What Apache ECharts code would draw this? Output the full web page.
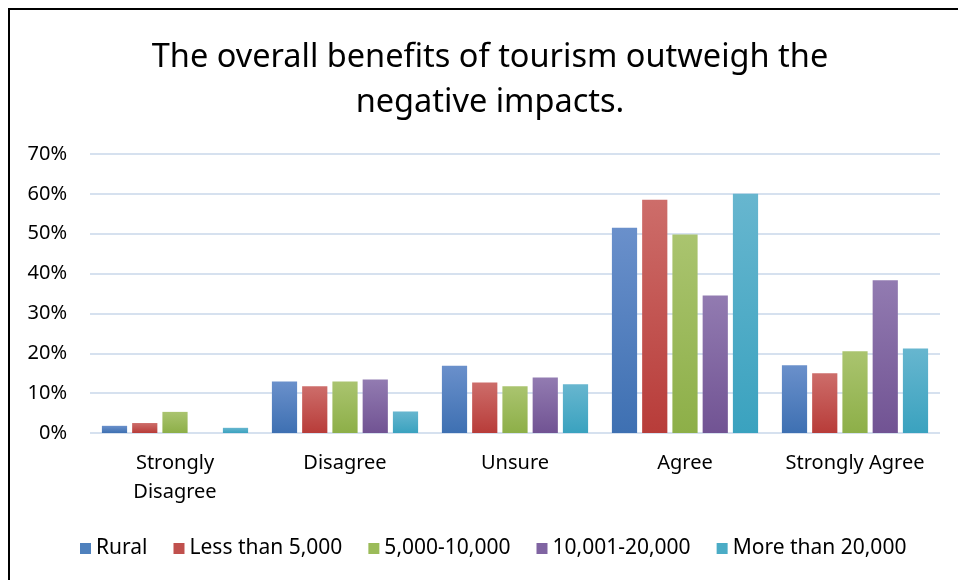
<!DOCTYPE html>
<html>
<head>
<meta charset="utf-8">
<script src="https://cdn.jsdelivr.net/npm/echarts@6/dist/echarts.min.js"></script>
<style>
html,body{margin:0;padding:0;background:#fff;}
#c{width:958px;height:580px;}
</style>
</head>
<body>
<div id="c"></div>
<script>
var categories = ['Strongly\nDisagree', 'Disagree', 'Unsure', 'Agree', 'Strongly Agree'];
var seriesNames = ['Rural', 'Less than 5,000', '5,000-10,000', '10,001-20,000', 'More than 20,000'];
var rural = [1.8, 12.9, 16.9, 51.5, 17.0];
var lessThan5000 = [2.5, 11.7, 12.7, 58.5, 15.0];
var from5000to10000 = [5.3, 12.9, 11.7, 49.8, 20.5];
var from10001to20000 = [0, 13.4, 13.9, 34.5, 38.3];
var moreThan20000 = [1.3, 5.4, 12.2, 60.0, 21.2];
var yTicks = [0, 10, 20, 30, 40, 50, 60, 70];

var FONT = 'Noto Sans';
var seriesData = [rural, lessThan5000, from5000to10000, from10001to20000, moreThan20000];
var colors = [
  ['#6A90CB', '#3E70B2'],
  ['#CD6D6A', '#B83C39'],
  ['#AAC46F', '#8DAF48'],
  ['#927BB1', '#715393'],
  ['#67B6CF', '#3AA2BF']
];
var legendColors = ['#4F81BD', '#C0504D', '#9BBB59', '#8064A2', '#4BACC6'];

var chart = echarts.init(document.getElementById('c'));
chart.setOption({
  animation: false,
  backgroundColor: '#fff',
  color: legendColors,
  title: {
    text: 'The overall benefits of tourism outweigh the\nnegative impacts.',
    left: 485,
    textAlign: 'center',
    top: 30,
    textStyle: { fontFamily: FONT, fontSize: 32.5, fontWeight: 'normal', color: '#000', lineHeight: 45 }
  },
  graphic: [{
    type: 'polyline',
    shape: { points: [[9, 600], [9, 9], [970, 9]] },
    style: { stroke: '#000', lineWidth: 2, fill: null }
  }],
  legend: {
    top: 533,
    left: 75,
    itemWidth: 11,
    itemHeight: 11,
    itemGap: 26,
    itemTextGap: 6,
    icon: 'rect',
    textStyle: { fontFamily: FONT, fontSize: 21, color: '#000' },
    data: seriesNames.map(function (n, i) { return { name: n, itemStyle: { color: legendColors[i] } }; })
  },
  grid: { left: 90, right: 18, top: 154, bottom: 147 },
  xAxis: {
    type: 'category',
    data: categories,
    axisLine: { show: false },
    axisTick: { show: false },
    axisLabel: { fontFamily: FONT, fontSize: 20, color: '#000', margin: 16, lineHeight: 29, interval: 0 }
  },
  yAxis: {
    type: 'value',
    min: yTicks[0],
    max: yTicks[yTicks.length - 1],
    interval: 10,
    axisLine: { show: false },
    axisTick: { show: false },
    axisLabel: { fontFamily: FONT, fontSize: 20, color: '#000', margin: 23, formatter: '{value}%' },
    splitLine: { lineStyle: { color: '#D6E1EF', width: 2 } }
  },
  series: seriesNames.map(function (name, i) {
    return {
      name: name,
      type: 'bar',
      data: seriesData[i],
      barGap: '20%',
      barCategoryGap: '14%',
      itemStyle: {
        color: new echarts.graphic.LinearGradient(0, 0, 0, 1, [
          { offset: 0, color: colors[i][0] },
          { offset: 1, color: colors[i][1] }
        ])
      }
    };
  })
});
</script>
</body>
</html>
